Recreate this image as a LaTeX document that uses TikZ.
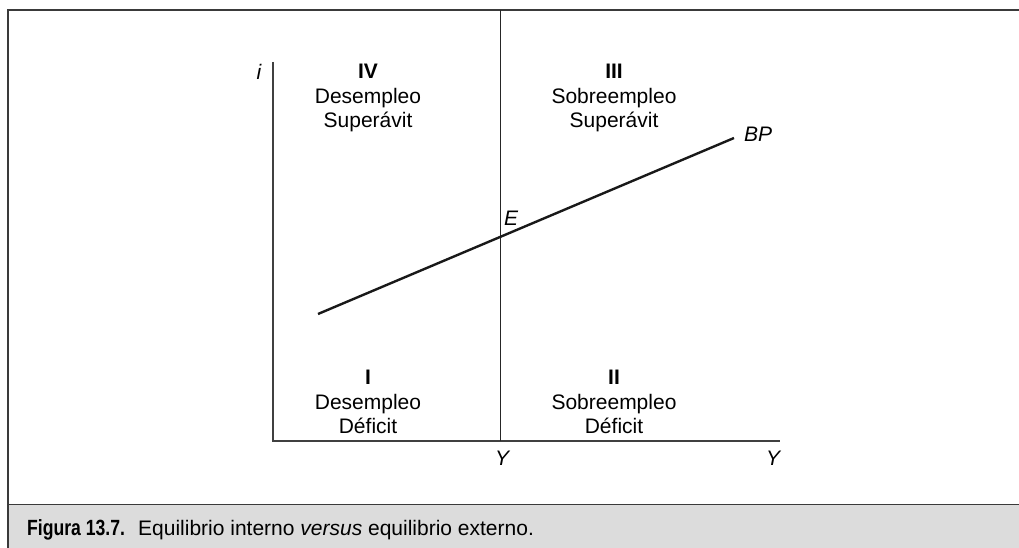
\documentclass[tikz,border=0pt]{standalone}
\usepackage{fontspec}
\setmainfont{Liberation Sans}
\newfontfamily\condfont{Liberation Sans}[FakeStretch=0.8]
\definecolor{capgray}{HTML}{DCDCDC}
\definecolor{framegray}{HTML}{3A3A3A}
\tikzset{
  quad/.style={align=center, font=\fontsize{21}{24.5}\selectfont, inner sep=0pt, anchor=north},
  lab/.style={font=\fontsize{21}{24}\selectfont\itshape, inner sep=0pt},
  axisline/.style={line width=1.4pt, draw=black!75},
  divline/.style={line width=1pt, draw=black!85},
  bpline/.style={line width=2.4pt, draw=black!90}
}
\begin{document}
\begin{tikzpicture}[x=1pt,y=-1pt]
\useasboundingbox (0,0) rectangle (1019,548);
% caption band
\fill[capgray] (8,505) rectangle (1019,548);
\draw[line width=2pt, draw=framegray] (8,548) -- (8,10) -- (1019,10);
\draw[line width=1.6pt, draw=framegray] (8,504.5) -- (1019,504.5);
% axes
\coordinate (O) at (273,441);
\coordinate (Ytop) at (273,62);
\coordinate (Xend) at (780,441);
\draw[axisline] (Ytop) -- (O) -- (Xend);
\coordinate (Vtop) at (500,10);
\coordinate (Vbot) at (500,441);
\draw[divline] (Vtop) -- (Vbot);
% BP line
\coordinate (B1) at (318,314);
\coordinate (B2) at (734,138);
\draw[bpline] (B1) -- (B2);
% labels
\node[lab] (i) at (259,72) {i};
\node[lab] (bp) at (758,134) {BP};
\node[lab] (e) at (511,218) {E};
\node[lab] (y1) at (502,458) {Y};
\node[lab] (y2) at (773,458) {Y};
% quadrants
\node[quad] (q4) at (368,64) {\textbf{IV}\\Desempleo\\Superávit};
\node[quad] (q3) at (614,64) {\textbf{III}\\Sobreempleo\\Superávit};
\node[quad] (q1) at (368,370) {\textbf{I}\\Desempleo\\Déficit};
\node[quad] (q2) at (614,370) {\textbf{II}\\Sobreempleo\\Déficit};
% caption
\node[anchor=base west, inner sep=0pt, font=\fontsize{22}{24}\selectfont\condfont\bfseries] (cap1) at (27,535) {Figura 13.7.};
\node[anchor=base west, inner sep=0pt, font=\fontsize{21}{24}\selectfont] (cap2) at (138,535) {Equilibrio interno \textit{versus} equilibrio externo.};
\end{tikzpicture}
\end{document}
